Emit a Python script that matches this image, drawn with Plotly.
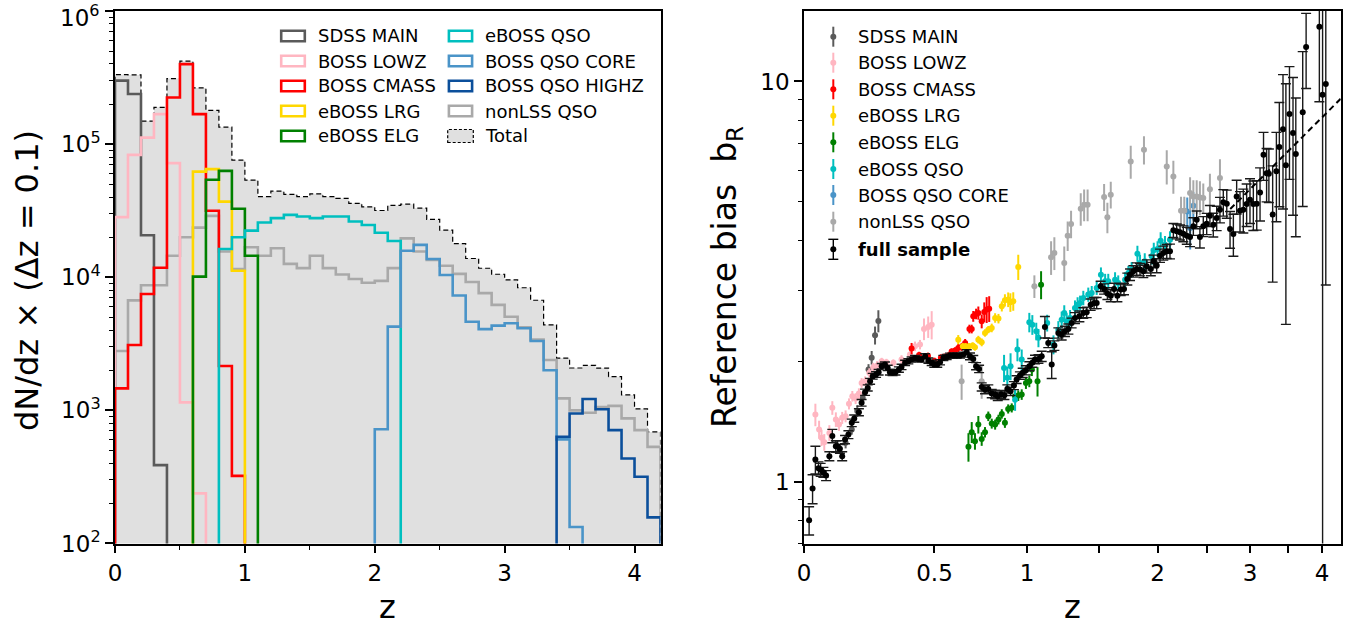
import numpy as np
import plotly.graph_objects as go

FONT = "DejaVu Sans"
W, H = 1364, 628
DZ = 0.1

# ---------------- redshift distributions (counts per dz = 0.1 bin) ----------------
# each sample: first bin edge and the counts of consecutive bins from there on
sdss_main_z0 = 0.0
sdss_main_n = [3.0e5, 2.38e5, 2.07e4, 388]
boss_lowz_z0 = 0.0
boss_lowz_n = [2.83e4, 8.3e4, 1.12e5, 1.68e5, 7.2e4, 1148, 238]
boss_cmass_z0 = 0.0
boss_cmass_n = [1462, 3097, 7480, 1.18e4, 2.24e5, 3.99e5, 1.68e5, 3.16e4, 2153, 322]
eboss_lrg_z0 = 0.6
eboss_lrg_n = [6.22e4, 6.49e4, 3.7e4, 1.12e4]
eboss_elg_z0 = 0.6
eboss_elg_n = [1.01e4, 5.4e4, 6.3e4, 3.27e4, 1.45e4]
eboss_qso_z0 = 0.8
eboss_qso_n = [1.63e4, 2.0e4, 2.24e4, 2.58e4, 2.78e4, 2.94e4, 2.86e4, 2.78e4, 2.86e4,
               2.86e4, 2.62e4, 2.47e4, 2.16e4, 1.87e4]
boss_core_z0 = 2.0
boss_core_n = [722, 4260, 1.58e4, 1.75e4, 1.37e4, 1.04e4, 7300, 4630, 4080, 4330, 4510,
               4140, 3320, 2000, 605, 133]
boss_highz_z0 = 3.4
boss_highz_n = [634, 948, 1217, 1019, 711, 435, 317, 157]
nonlss_z0 = 0.0
nonlss_n = [2790, 6700, 8700, 8700, 1.45e4, 2.0e4, 2.36e4, 2.89e4, 1.56e4, 1.15e4,
            1.68e4, 1.45e4, 1.65e4, 1.26e4, 1.17e4, 1.45e4, 1.17e4, 1.05e4, 9700, 9100,
            9400, 1.17e4, 1.96e4, 1.56e4, 1.35e4, 1.22e4, 1.06e4, 9200, 7600, 6200,
            5050, 4200, 3400, 2390, 1230, 1000, 959, 1060, 1080, 871, 711, 532]

hist_labels = ["SDSS MAIN", "BOSS LOWZ", "BOSS CMASS", "eBOSS LRG", "eBOSS ELG",
               "eBOSS QSO", "BOSS QSO CORE", "BOSS QSO HIGHZ", "nonLSS QSO"]
hist_colors = ["#5a5a5a", "#ffb6c1", "#ff0000", "#ffd700", "#008000",
               "#00bfbf", "#4a94c8", "#0b4f9b", "#a9a9a9"]
hist_z0 = [sdss_main_z0, boss_lowz_z0, boss_cmass_z0, eboss_lrg_z0, eboss_elg_z0,
           eboss_qso_z0, boss_core_z0, boss_highz_z0, nonlss_z0]
hist_n = [sdss_main_n, boss_lowz_n, boss_cmass_n, eboss_lrg_n, eboss_elg_n,
          eboss_qso_n, boss_core_n, boss_highz_n, nonlss_n]

Z_MAX = 4.2
NBINS = int(round(Z_MAX / DZ))
hist_xticks = [0, 1, 2, 3, 4]
hist_xminor = [0.5, 1.5, 2.5, 3.5]
hist_yticks = [1e2, 1e3, 1e4, 1e5, 1e6]
hist_yticktext = ["10<sup>2</sup>", "10<sup>3</sup>", "10<sup>4</sup>",
                  "10<sup>5</sup>", "10<sup>6</sup>"]
hist_yminor = [m * 10 ** e for e in range(2, 6) for m in range(2, 10)]

# ---------------- reference bias b_R per sample: (z, b, error) ----------------
bias_sdss_main_z = [0.138, 0.160, 0.180, 0.200, 0.222, 0.234, 0.247, 0.260]
bias_sdss_main_b = [1.25, 1.35, 1.50, 1.62, 1.905, 2.04, 2.32, 2.52]
bias_sdss_main_e = [0.04, 0.04, 0.05, 0.05, 0.06, 0.08, 0.12, 0.16]

bias_lowz_z = [0.036, 0.048, 0.056, 0.065, 0.082, 0.092, 0.104, 0.115, 0.126, 0.138,
               0.150, 0.162, 0.174, 0.186, 0.196, 0.209, 0.225, 0.240, 0.255, 0.273,
               0.292, 0.320, 0.354, 0.390, 0.412, 0.434, 0.452, 0.471, 0.487]
bias_lowz_b = [1.47, 1.349, 1.286, 1.254, 1.323, 1.528, 1.429, 1.388, 1.443, 1.456,
               1.564, 1.634, 1.612, 1.66, 1.764, 1.781, 1.869, 1.93, 1.95, 1.998,
               1.986, 1.98, 2.018, 2.076, 2.178, 2.199, 2.406, 2.435, 2.466]
bias_lowz_e = [0.095, 0.07, 0.06, 0.06, 0.06, 0.06, 0.06, 0.05, 0.05, 0.05,
               0.05, 0.05, 0.05, 0.05, 0.05, 0.05, 0.05, 0.05, 0.05, 0.04,
               0.04, 0.04, 0.05, 0.05, 0.06, 0.06, 0.15, 0.15, 0.2]

bias_cmass_z = [0.397, 0.430, 0.470, 0.500, 0.530, 0.547, 0.567, 0.582, 0.599, 0.615,
                0.632, 0.650, 0.672, 0.684, 0.692, 0.707, 0.719, 0.737, 0.751, 0.764,
                0.778]
bias_cmass_b = [2.15, 2.07, 2.06, 2.00, 2.04, 2.049, 2.064, 2.112, 2.125, 2.158,
                2.171, 2.221, 2.406, 2.406, 2.588, 2.624, 2.638, 2.515, 2.654, 2.690,
                2.705]
bias_cmass_e = [0.07, 0.04, 0.04, 0.04, 0.04, 0.04, 0.04, 0.04, 0.04, 0.05,
                0.05, 0.05, 0.06, 0.06, 0.08, 0.08, 0.1, 0.1, 0.15, 0.2, 0.2]

bias_lrg_z = [0.615, 0.638, 0.652, 0.670, 0.689, 0.701, 0.719, 0.737, 0.755, 0.773,
              0.792, 0.811, 0.830, 0.849, 0.867, 0.886, 0.899, 0.916, 0.946]
bias_lrg_b = [2.263, 2.178, 2.178, 2.178, 2.187, 2.165, 2.263, 2.228, 2.352, 2.397,
              2.421, 2.564, 2.554, 2.741, 2.838, 2.849, 2.805, 2.822, 3.439]
bias_lrg_e = [0.06, 0.04, 0.04, 0.04, 0.04, 0.04, 0.05, 0.05, 0.05, 0.05,
              0.06, 0.07, 0.07, 0.08, 0.1, 0.12, 0.15, 0.15, 0.25]

bias_elg_z = [0.667, 0.684, 0.701, 0.719, 0.737, 0.755, 0.773, 0.792, 0.811, 0.830,
              0.849, 0.867, 0.886, 0.907, 0.927, 0.946, 0.967, 0.993, 1.014, 1.030,
              1.066, 1.089]
bias_elg_b = [1.221, 1.328, 1.261, 1.388, 1.278, 1.328, 1.456, 1.396, 1.388, 1.429,
              1.476, 1.402, 1.519, 1.528, 1.634, 1.640, 1.650, 1.764, 1.781, 1.905,
              1.781, 3.105]
bias_elg_e = [0.1, 0.08, 0.06, 0.07, 0.05, 0.04, 0.04, 0.04, 0.04, 0.04,
              0.04, 0.04, 0.04, 0.04, 0.05, 0.05, 0.05, 0.06, 0.06, 0.07,
              0.15, 0.25]

bias_qso_z = [0.862, 0.881, 0.900, 0.927, 0.941, 0.967, 1.014, 1.033, 1.058, 1.072,
              1.129, 1.171, 1.204, 1.227, 1.245, 1.262, 1.286, 1.321, 1.340, 1.358,
              1.382, 1.419, 1.445, 1.483, 1.516, 1.549, 1.574, 1.629, 1.655, 1.712,
              1.740, 1.768, 1.818, 1.841, 1.883, 1.946, 1.965, 2.000, 2.029, 2.070,
              2.118]
bias_qso_b = [1.923, 1.816, 1.942, 1.602, 2.137, 2.018, 2.50, 2.466, 2.374, 2.286,
              2.491, 2.199, 2.397, 2.539, 2.638, 2.515, 2.564, 2.716, 2.768, 2.795,
              2.877, 2.933, 2.961, 3.047, 3.289, 3.165, 3.165, 3.195, 3.135, 3.195,
              3.321, 3.386, 3.712, 3.519, 3.551, 3.655, 3.784, 3.814, 4.00, 3.909,
              4.023]
bias_qso_e = [0.15, 0.12, 0.15, 0.1, 0.14, 0.12, 0.14, 0.14, 0.12, 0.12,
              0.12, 0.12, 0.12, 0.12, 0.12, 0.12, 0.12, 0.12, 0.12, 0.12,
              0.12, 0.12, 0.12, 0.12, 0.14, 0.14, 0.14, 0.14, 0.14, 0.14,
              0.14, 0.15, 0.17, 0.17, 0.17, 0.17, 0.17, 0.17, 0.2, 0.2, 0.2]

bias_core_z = [2.290, 2.320, 2.353]
bias_core_b = [4.73, 4.30, 4.89]
bias_core_e = [0.4, 0.5, 0.4]

bias_nonlss_z = [0.632, 0.737, 1.046, 1.155, 1.177, 1.245, 1.269, 1.293, 1.363, 1.388,
                 1.414, 1.541, 1.567, 1.594, 1.760, 1.876, 2.087, 2.151, 2.227, 2.260,
                 2.319, 2.353, 2.388, 2.422, 2.458, 2.530, 2.642]
bias_nonlss_b = [1.78, 1.78, 3.076, 3.634, 3.727, 3.519, 4.117, 4.403, 4.808, 4.920,
                 4.920, 5.143, 4.574, 5.212, 6.31, 6.75, 6.13, 5.79, 4.753, 4.75,
                 5.26, 5.16, 5.16, 5.13, 5.11, 5.38, 5.74]
bias_nonlss_e = [0.18, 0.17, 0.2, 0.35, 0.35, 0.35, 0.35, 0.35, 0.45, 0.45,
                 0.45, 0.4, 0.4, 0.4, 0.6, 0.55, 0.6, 0.55, 0.4, 0.4,
                 0.5, 0.5, 0.5, 0.5, 0.45, 0.5, 0.65]

bias_full_z = [0.016, 0.027, 0.036, 0.046, 0.053, 0.062, 0.071, 0.082, 0.092, 0.104,
               0.110, 0.118, 0.126, 0.136, 0.148, 0.160, 0.169, 0.186, 0.196, 0.209,
               0.219, 0.228, 0.238, 0.251, 0.261, 0.273, 0.286, 0.297, 0.306, 0.317,
               0.329, 0.343, 0.354, 0.369, 0.383, 0.397, 0.412, 0.427, 0.441, 0.457,
               0.472, 0.487, 0.499, 0.513, 0.526, 0.542, 0.558, 0.574, 0.591, 0.607,
               0.624, 0.641, 0.658, 0.675, 0.692, 0.707, 0.723, 0.737, 0.755, 0.773,
               0.792, 0.811, 0.826, 0.845, 0.864, 0.881, 0.900, 0.920, 0.936, 0.956,
               0.973, 0.993, 1.014, 1.033, 1.050, 1.072, 1.093, 1.114, 1.136, 1.159,
               1.177, 1.204, 1.227, 1.250, 1.274, 1.297, 1.321, 1.353, 1.382, 1.407,
               1.437, 1.463, 1.483, 1.514, 1.541, 1.567, 1.594, 1.621, 1.648, 1.676,
               1.703, 1.731, 1.754, 1.783, 1.812, 1.841, 1.870, 1.901, 1.938, 1.962,
               1.992, 2.023, 2.054, 2.087, 2.118, 2.151, 2.184, 2.217, 2.250, 2.285,
               2.319, 2.353, 2.388, 2.422, 2.458, 2.495, 2.530, 2.567, 2.605, 2.642,
               2.680, 2.720, 2.758, 2.797, 2.836, 2.876, 2.916, 2.957, 2.998, 3.040,
               3.083, 3.125, 3.17, 3.21, 3.24, 3.29, 3.34, 3.38, 3.43, 3.47,
               3.52, 3.57, 3.61, 3.71, 3.76, 3.96, 4.01, 4.06]
bias_full_b = [0.80, 0.96, 1.135, 1.08, 1.07, 1.055, 1.035, 1.157, 1.30, 1.225,
               1.225, 1.207, 1.157, 1.273, 1.310, 1.402, 1.437, 1.490, 1.573, 1.672,
               1.714, 1.781, 1.833, 1.851, 1.876, 1.942, 1.960, 1.923, 1.876, 1.869,
               1.876, 1.905, 1.934, 1.980, 1.998, 2.018, 2.037, 2.025, 2.018, 2.056,
               2.006, 1.980, 1.960, 1.960, 1.987, 2.037, 2.049, 2.064, 2.064, 2.064,
               2.064, 2.076, 2.104, 2.056, 2.025, 1.942, 1.912, 1.724, 1.698, 1.704,
               1.659, 1.650, 1.634, 1.650, 1.643, 1.704, 1.681, 1.737, 1.798, 1.840,
               1.869, 1.897, 1.942, 1.980, 2.018, 2.025, 2.056, 2.435, 2.221, 1.960,
               2.187, 2.352, 2.329, 2.374, 2.406, 2.491, 2.564, 2.588, 2.638, 2.648,
               2.768, 2.795, 2.795, 3.076, 3.030, 2.950, 2.915, 3.030, 2.915, 3.018,
               3.030, 3.209, 3.289, 3.353, 3.399, 3.386, 3.353, 3.451, 3.399, 3.551,
               3.465, 3.669, 3.727, 3.761, 3.761, 4.245, 4.221, 4.196, 4.165, 4.117,
               4.086, 4.344, 4.514, 4.086, 4.344, 4.411, 4.619, 4.385, 4.557, 4.781,
               4.987, 4.949, 4.279, 4.157, 5.161, 4.753, 4.781, 4.940, 5.064, 4.940,
               4.949, 5.281, 6.56, 5.90, 5.88, 4.65, 5.96, 6.86, 7.60, 6.17,
               8.29, 7.43, 6.59, 8.37, 12.2, 13.7, 9.26, 9.85]
bias_full_e = [0.065, 0.08, 0.09, 0.04, 0.04, 0.03, 0.03, 0.03, 0.05, 0.04,
               0.04, 0.03, 0.03, 0.03, 0.03, 0.03, 0.03, 0.03, 0.03, 0.03,
               0.03, 0.03, 0.03, 0.03, 0.03, 0.03, 0.03, 0.03, 0.03, 0.03,
               0.03, 0.03, 0.03, 0.03, 0.03, 0.03, 0.03, 0.03, 0.03, 0.03,
               0.03, 0.03, 0.03, 0.03, 0.03, 0.03, 0.03, 0.03, 0.03, 0.03,
               0.03, 0.03, 0.03, 0.04, 0.04, 0.04, 0.04, 0.04, 0.04, 0.04,
               0.04, 0.04, 0.04, 0.04, 0.04, 0.04, 0.04, 0.04, 0.04, 0.04,
               0.05, 0.05, 0.05, 0.05, 0.05, 0.05, 0.06, 0.15, 0.06, 0.15,
               0.06, 0.07, 0.07, 0.07, 0.07, 0.07, 0.08, 0.08, 0.08, 0.08,
               0.09, 0.09, 0.09, 0.09, 0.09, 0.1, 0.1, 0.1, 0.1, 0.1,
               0.1, 0.11, 0.11, 0.11, 0.12, 0.12, 0.12, 0.13, 0.13, 0.13,
               0.14, 0.14, 0.15, 0.15, 0.16, 0.17, 0.18, 0.18, 0.19, 0.2,
               0.22, 0.22, 0.23, 0.25, 0.25, 0.27, 0.28, 0.3, 0.32, 0.35,
               0.38, 0.4, 0.45, 0.5, 0.5, 0.55, 0.6, 0.6, 0.65, 0.7,
               0.7, 0.8, 0.9, 0.9, 0.9, 1.5, 1.5, 2.0, 2.8, 3.7,
               2.6, 2.8, 2.5, 3.5, 2.6, 4.8, 9.2, 6.75]

# power-law model b_R ~ (1+z)^gamma drawn at high z (end points)
model_z = [2.76, 4.3]
model_b = [4.80, 9.05]

bias_labels = ["SDSS MAIN", "BOSS LOWZ", "BOSS CMASS", "eBOSS LRG", "eBOSS ELG",
               "eBOSS QSO", "BOSS QSO CORE", "nonLSS QSO"]
bias_colors = ["#5a5a5a", "#ffb6c1", "#ff0000", "#ffd700", "#008000",
               "#00bfbf", "#4a94c8", "#a9a9a9"]
bias_sets = [(bias_sdss_main_z, bias_sdss_main_b, bias_sdss_main_e),
             (bias_lowz_z, bias_lowz_b, bias_lowz_e),
             (bias_cmass_z, bias_cmass_b, bias_cmass_e),
             (bias_lrg_z, bias_lrg_b, bias_lrg_e),
             (bias_elg_z, bias_elg_b, bias_elg_e),
             (bias_qso_z, bias_qso_b, bias_qso_e),
             (bias_core_z, bias_core_b, bias_core_e),
             (bias_nonlss_z, bias_nonlss_b, bias_nonlss_e)]

bias_zmax = 4.3
bias_xticks = [0, 0.5, 1, 2, 3, 4]
bias_xticktext = ["0", "0.5", "1", "2", "3", "4"]
bias_xminor = [1.5, 2.5, 3.5]
bias_yrange = [0.7, 15]
bias_yticks = [1, 10]
bias_yminor = [0.7, 0.8, 0.9, 2, 3, 4, 5, 6, 7, 8, 9]


# ---------------- helpers ----------------
def step_outline(z0, counts, floor=1.0):
    """Closed step outline of a histogram, zero bins pushed below the log axis."""
    counts = np.asarray(counts, dtype=float)
    edges = z0 + DZ * np.arange(len(counts) + 1)
    x = np.repeat(edges, 2)
    y = np.concatenate([[floor], np.repeat(counts, 2), [floor]])
    y[y <= 0] = floor
    return x, y


def on_grid(z0, counts):
    arr = np.zeros(NBINS)
    i0 = int(round(z0 / DZ))
    arr[i0:i0 + len(counts)] = counts
    return arr


def px(x):
    return x / W


def py(y):
    return 1 - y / H


fig = go.Figure()

# ---- left panel: summed distribution as grey filled outline, then each sample ----
total = sum(on_grid(z0, n) for z0, n in zip(hist_z0, hist_n))
tx, ty = step_outline(0.0, total)
fig.add_trace(go.Scatter(x=tx, y=ty, mode="lines", fill="toself", fillcolor="#e0e0e0",
                         line=dict(width=0), hoverinfo="skip", xaxis="x", yaxis="y"))
fig.add_trace(go.Scatter(x=tx, y=ty, mode="lines",
                         line=dict(color="black", width=1.2, dash="5px,3px"),
                         xaxis="x", yaxis="y"))

draw_order = [8, 0, 1, 2, 3, 4, 5, 6, 7]
for i in draw_order:
    hx, hy = step_outline(hist_z0[i], hist_n[i])
    fig.add_trace(go.Scatter(x=hx, y=hy, mode="lines", name=hist_labels[i],
                             line=dict(color=hist_colors[i], width=2.6),
                             xaxis="x", yaxis="y"))

# ---- right panel: per-sample bias, full sample, model ----
for (zz, bb, ee), col, lab in zip(bias_sets, bias_colors, bias_labels):
    fig.add_trace(go.Scatter(
        x=1 + np.asarray(zz), y=bb, mode="markers", name=lab,
        marker=dict(color=col, size=6),
        error_y=dict(type="data", array=ee, color=col, thickness=2, width=0),
        xaxis="x2", yaxis="y2"))

fig.add_trace(go.Scatter(
    x=1 + np.asarray(bias_full_z), y=bias_full_b, mode="markers", name="full sample",
    marker=dict(color="black", size=6),
    error_y=dict(type="data", array=bias_full_e, color="#1a1a1a", thickness=1.4, width=5),
    xaxis="x2", yaxis="y2"))

fig.add_trace(go.Scatter(
    x=1 + np.asarray(model_z), y=model_b, mode="lines",
    line=dict(color="black", width=2, dash="6px,4px"), xaxis="x2", yaxis="y2"))

# ---------------- axes ----------------
Y_DOM = [py(543.5), py(11)]
TICK_SIZE = 23
tick_font = dict(family=FONT, size=TICK_SIZE, color="black")
common = dict(showline=True, linewidth=1.5, linecolor="black", mirror=True,
              showgrid=False, zeroline=False, ticks="outside", ticklen=8,
              tickwidth=1.5, tickcolor="black", tickfont=tick_font,
              ticklabeloverflow="allow", automargin=False)

# the topmost decade label sits against the figure edge; it is placed as a
# separate text just below the edge so it is not clipped
left_yticktext = hist_yticktext[:-1] + [""]

fig.update_layout(
    template="none",
    width=W, height=H, margin=dict(l=0, r=0, t=0, b=0, pad=0), autosize=False,
    paper_bgcolor="white", plot_bgcolor="white", showlegend=False,
    font=dict(family=FONT, color="black"),
    xaxis=dict(domain=[px(115), px(660.5)], range=[0, Z_MAX], anchor="y",
               tickmode="array", tickvals=hist_xticks,
               minor=dict(tickmode="array", tickvals=hist_xminor, ticks="outside",
                          ticklen=4.5, tickwidth=1.2, tickcolor="black"),
               **common),
    yaxis=dict(domain=Y_DOM, type="log", range=[1.99995, 6.00005], anchor="x",
               tickmode="array", tickvals=hist_yticks, ticktext=left_yticktext,
               minor=dict(tickmode="array", tickvals=hist_yminor, ticks="outside",
                          ticklen=4.5, tickwidth=1.2, tickcolor="black"),
               **common),
    xaxis2=dict(domain=[px(804), px(1340.7)], type="log",
                range=[0, np.log10(1 + bias_zmax)], anchor="y2",
                tickmode="array", tickvals=[1 + t for t in bias_xticks],
                ticktext=bias_xticktext,
                minor=dict(tickmode="array", tickvals=[1 + t for t in bias_xminor],
                           ticks="outside", ticklen=8, tickwidth=1.5, tickcolor="black"),
                **common),
    yaxis2=dict(domain=Y_DOM, type="log", range=list(np.log10(bias_yrange)), anchor="x2",
                tickmode="array", tickvals=bias_yticks, ticktext=["1", "10"],
                minor=dict(tickmode="array", tickvals=bias_yminor, ticks="outside",
                           ticklen=4.5, tickwidth=1.2, tickcolor="black"),
                **common),
)

# ---------------- axis titles ----------------
ann = []
ann.append(dict(text=hist_yticktext[-1], x=px(101), y=1.0, xref="paper", yref="paper",
                showarrow=False, xanchor="right", yanchor="top", borderpad=0,
                font=tick_font))
ann.append(dict(text="z", x=px((115 + 660.5) / 2), y=py(607), xref="paper", yref="paper",
                showarrow=False, xanchor="center", yanchor="middle",
                font=dict(family=FONT, size=32)))
ann.append(dict(text="z", x=px((804 + 1340.7) / 2), y=py(607), xref="paper", yref="paper",
                showarrow=False, xanchor="center", yanchor="middle",
                font=dict(family=FONT, size=32)))
ann.append(dict(text="dN/dz × (Δz = 0.1)", x=px(27), y=py(281), xref="paper",
                yref="paper", showarrow=False, textangle=-90, xanchor="center",
                yanchor="middle", font=dict(family=FONT, size=32)))
ann.append(dict(text="Reference bias  b<sub>R</sub>", x=px(726), y=py(277), xref="paper",
                yref="paper", showarrow=False, textangle=-90, xanchor="center",
                yanchor="middle", font=dict(family=FONT, size=33)))

shapes = []

# ---------------- left legend (outlined patches, two columns) ----------------
leg_rows = [36, 61, 86, 111, 136]
leg_cols = [(280, 306, 316), (447.7, 473.3, 483)]
leg_items = [(hist_labels[i], hist_colors[i]) for i in range(9)] + [("Total", None)]
for k, (lab, col) in enumerate(leg_items):
    c = k // 5
    r = k % 5
    x0, x1, xt = leg_cols[c]
    yc = leg_rows[r]
    if col is None:
        shapes.append(dict(type="rect", xref="paper", yref="paper",
                           x0=px(x0), x1=px(x1), y0=py(yc + 6.5), y1=py(yc - 6.5),
                           fillcolor="#e0e0e0",
                           line=dict(color="black", width=1.2, dash="3px,2px")))
    else:
        shapes.append(dict(type="rect", xref="paper", yref="paper",
                           x0=px(x0 + 1.2), x1=px(x1 - 1.2), y0=py(yc + 5.3),
                           y1=py(yc - 5.3), fillcolor="rgba(0,0,0,0)",
                           line=dict(color=col, width=2.6)))
    ann.append(dict(text=lab, x=px(xt), y=py(yc), xref="paper", yref="paper",
                    showarrow=False, xanchor="left", yanchor="middle",
                    font=dict(family=FONT, size=18)))

# ---------------- right legend (error-bar markers) ----------------
rleg_rows = [36.7, 62.7, 89.3, 115.7, 142.3, 169, 195, 221.7, 249.3]
rleg_x, rleg_xt = 833.3, 856
for k, (lab, col) in enumerate(zip(bias_labels + ["<b>full sample</b>"],
                                   bias_colors + ["black"])):
    yc = rleg_rows[k]
    lw = 1.4 if k == len(bias_labels) else 2
    shapes.append(dict(type="line", xref="paper", yref="paper", x0=px(rleg_x),
                       x1=px(rleg_x), y0=py(yc - 10), y1=py(yc + 10),
                       line=dict(color=col, width=lw)))
    if k == len(bias_labels):
        for dy in (-10, 10):
            shapes.append(dict(type="line", xref="paper", yref="paper",
                               x0=px(rleg_x - 5), x1=px(rleg_x + 5),
                               y0=py(yc + dy), y1=py(yc + dy),
                               line=dict(color=col, width=1.4)))
    shapes.append(dict(type="circle", xref="paper", yref="paper",
                       x0=px(rleg_x - 3), x1=px(rleg_x + 3), y0=py(yc + 3),
                       y1=py(yc - 3), fillcolor=col, line=dict(width=0)))
    ann.append(dict(text=lab, x=px(rleg_xt), y=py(yc), xref="paper", yref="paper",
                    showarrow=False, xanchor="left", yanchor="middle",
                    font=dict(family=FONT, size=18)))

fig.update_layout(annotations=ann, shapes=shapes)
fig.write_html("out.html")
